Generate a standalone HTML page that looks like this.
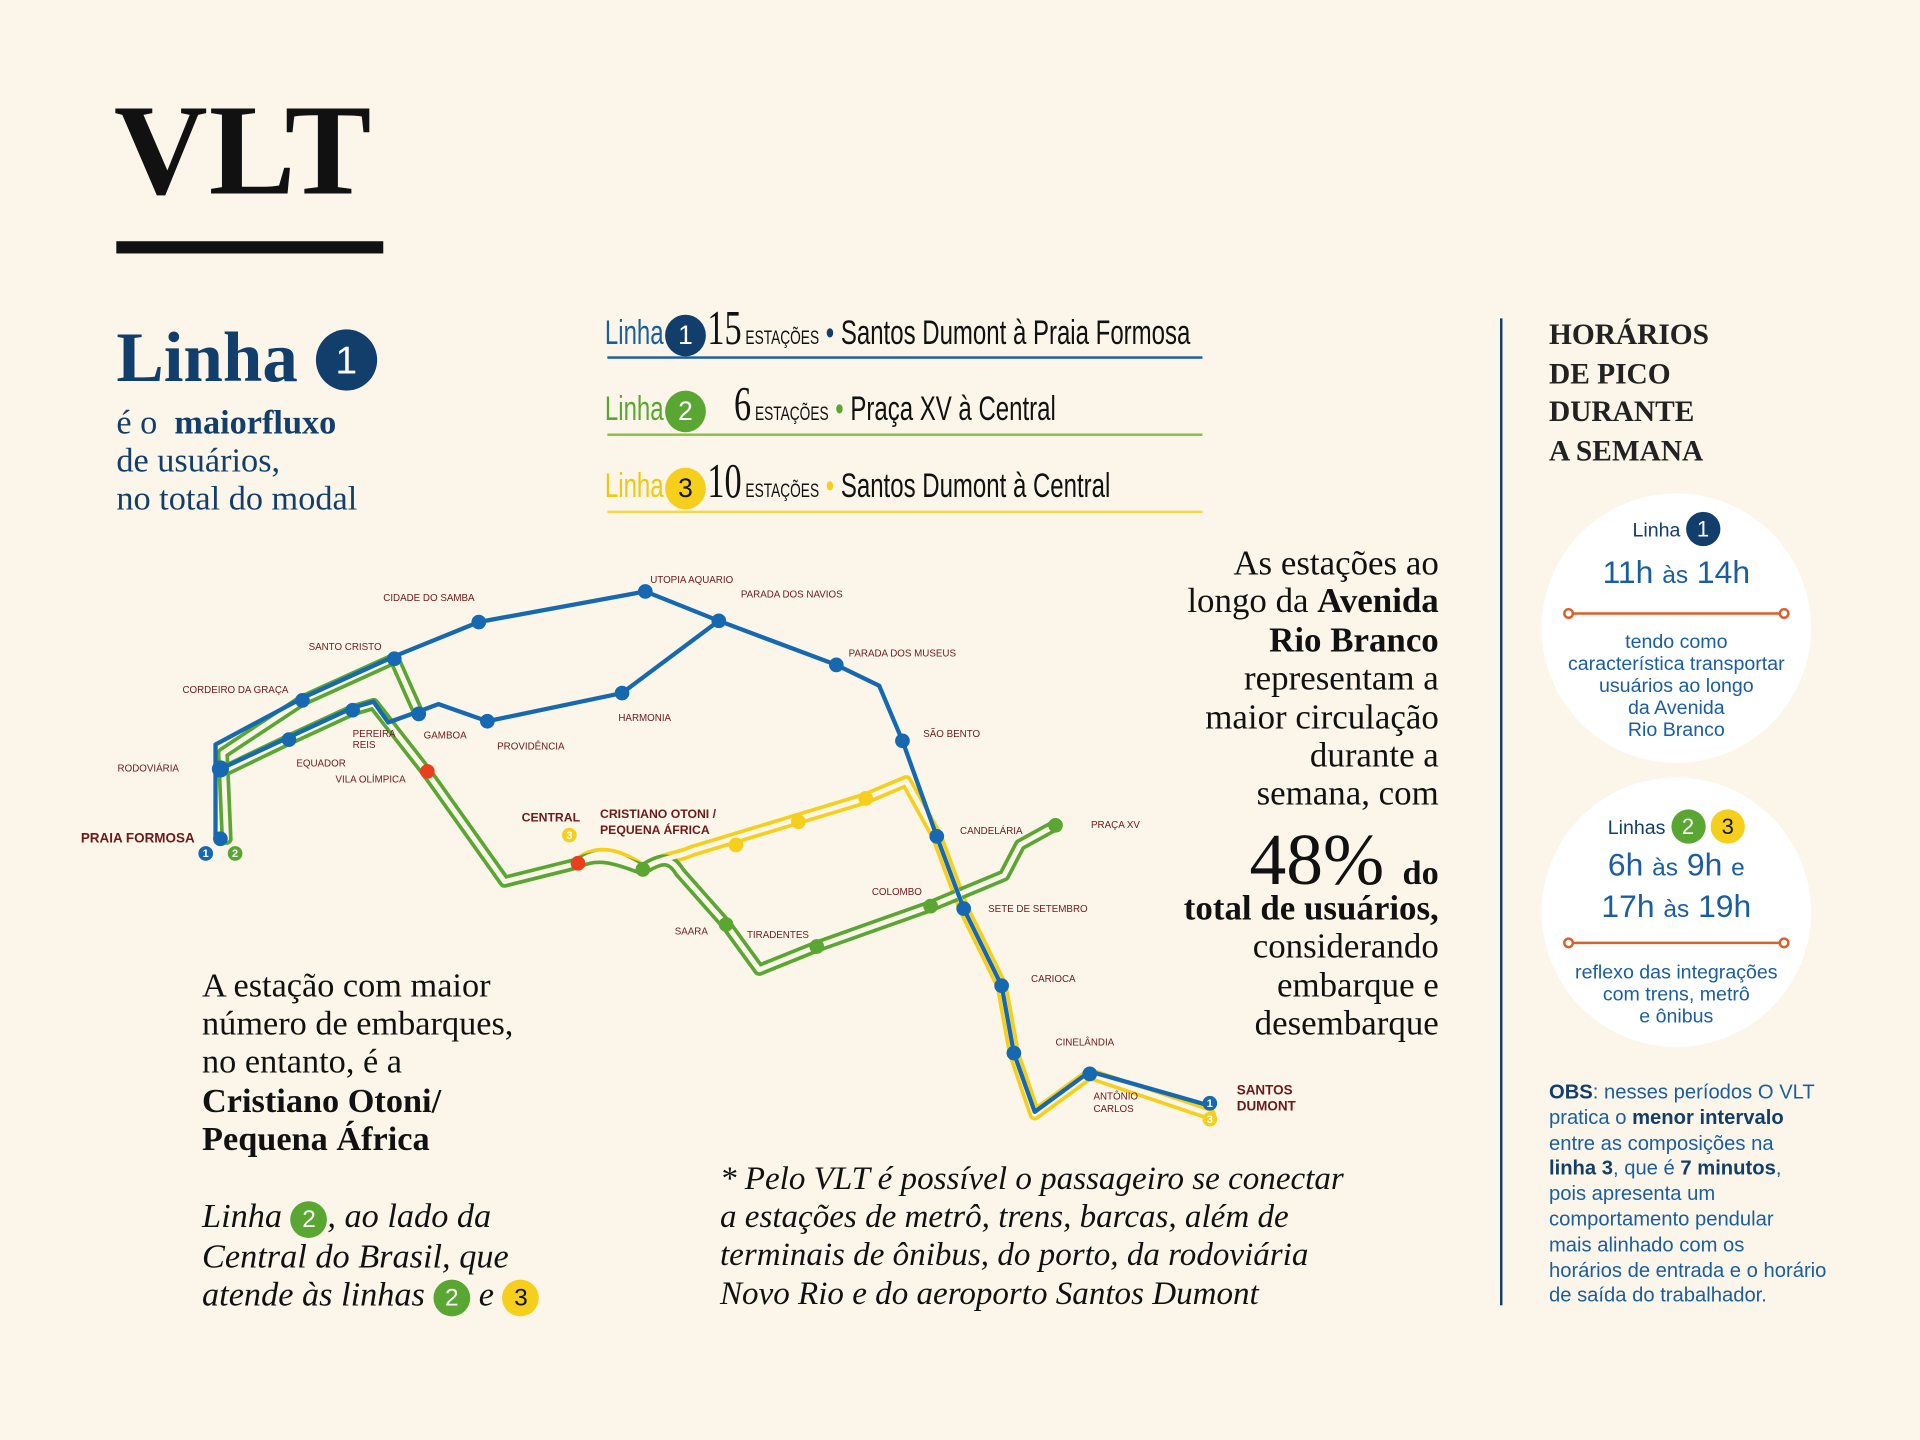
<!DOCTYPE html>
<html><head><meta charset="utf-8">
<style>
html,body{margin:0;padding:0;background:#fcf6ea;}
#wrap{position:absolute;left:0;top:0;width:1568px;height:1176px;transform:scale(1.22449);transform-origin:0 0;background:#fcf6ea;overflow:hidden;}
.a{position:absolute;white-space:nowrap;}
.serif{font-family:"Liberation Serif",serif;}
.sans{font-family:"Liberation Sans",sans-serif;}
.narrow{font-family:"Liberation Sans Narrow","Liberation Sans",sans-serif;}
.circ{display:inline-block;border-radius:50%;color:#fff;text-align:center;font-family:"Liberation Sans",sans-serif;}
.hc{margin:0 9px 0 8px;}
.navy{color:#123e6c;}
</style></head><body>
<div id="wrap">
<div class="a serif" style="left:93px;top:62px;font-size:106px;font-weight:bold;color:#111;letter-spacing:1px;">VLT</div>
<div class="a" style="left:95px;top:197px;width:218px;height:10px;background:#111;"></div>

<div class="a serif navy" style="left:95px;top:258px;font-size:58px;font-weight:bold;">Linha <span class="circ" style="background:#123e6c;width:50px;height:50px;line-height:50px;font-size:32px;font-weight:normal;vertical-align:6px;">1</span></div>
<div class="a serif navy" style="left:95px;top:330px;font-size:28px;line-height:31px;">é o &nbsp;<b>maiorfluxo</b><br>de usuários,<br>no total do modal</div>

<div class="a narrow" style="left:494px;top:244px;font-size:28px;color:#123e6c;transform:scaleX(0.7);transform-origin:0 0;"><span style="color:#1a5ea0">Linha</span><span class="circ hc" style="background:#123e6c;width:34px;height:34px;line-height:34px;font-size:22px;transform:scaleX(1.4);">1</span><span class="serif" style="font-size:40px;color:#111;">15</span><span style="font-size:16px;color:#111;"> ESTAÇÕES</span> <span style="color:#123e6c">•</span> <span style="color:#111">Santos Dumont à Praia Formosa</span></div>
<div class="a" style="left:496px;top:291px;width:486px;height:2px;background:#1a5ea0;"></div>
<div class="a narrow" style="left:494px;top:306px;font-size:28px;transform:scaleX(0.7);transform-origin:0 0;"><span style="color:#5aa632">Linha</span><span class="circ hc" style="background:#5aa632;width:34px;height:34px;line-height:34px;font-size:22px;transform:scaleX(1.4);">2</span>&nbsp;&nbsp;&nbsp;&nbsp;<span class="serif" style="font-size:40px;color:#111;">6</span><span style="font-size:16px;color:#111;"> ESTAÇÕES</span> <span style="color:#5aa632">•</span> <span style="color:#111">Praça XV à Central</span></div>
<div class="a" style="left:496px;top:354px;width:486px;height:2px;background:#8cbf3f;"></div>
<div class="a narrow" style="left:494px;top:369px;font-size:28px;transform:scaleX(0.7);transform-origin:0 0;"><span style="color:#f2c80f">Linha</span><span class="circ hc" style="background:#f5cf1c;color:#111;width:34px;height:34px;line-height:34px;font-size:22px;transform:scaleX(1.4);">3</span><span class="serif" style="font-size:40px;color:#111;">10</span><span style="font-size:16px;color:#111;"> ESTAÇÕES</span> <span style="color:#f5cf1c">•</span> <span style="color:#111">Santos Dumont à Central</span></div>
<div class="a" style="left:496px;top:417px;width:486px;height:2px;background:#f5d84a;"></div>

<svg class="a" style="left:0;top:0" width="1568" height="1176" fill="none" stroke-linecap="round" stroke-linejoin="round">
<g stroke-width="10">
<path stroke="#f5cf1c" d="M472 705 C490 690 510 700 525 710 C540 700 555 700 565 695 L707 652 L740 638 L765 683 L787 742 L818 805 L828 860 L845 910 L890 877 L988 910"/>
<path stroke="#5aa632" d="M185 685 L182 615 L247 572 L322 538 L342 583 M182 630 L236 604 L288 580 L305 575 L348 630 L412 720 L472 705 C490 695 510 705 525 710 C540 700 548 700 555 712 L593 755 L620 792 L667 773 L760 740 L820 715 L833 690 L862 674"/>
</g>
<g stroke="#fcf6ea" stroke-width="4">
<path d="M185 685 L182 615 L247 572 L322 538 L342 583 M182 630 L236 604 L288 580 L305 575 L348 630 L412 720 L472 705 C490 695 510 705 525 710 C540 700 548 700 555 712 L593 755 L620 792 L667 773 L760 740 L820 715 L833 690 L862 674"/>
<path d="M472 705 C490 690 510 700 525 710 C540 700 555 700 565 695 L707 652 L740 638 L765 683 L787 742 L818 805 L828 860 L845 910 L890 877 L988 910"/>
</g>
<g stroke="#1669b0" stroke-width="3.5">
<path d="M176 685 L176 608 L247 570 L322 536 L391 508 L527 483 L587 507 L683 543 L718 560 L737 605 L765 683 L787 742 L818 805 L828 860 L845 908 L890 875 L988 903"/>
<path d="M180 628 L236 602 L288 578 L305 573 L317 590 L342 581 L358 575 L398 589 L508 566 L587 507"/>
</g>
<g fill="#1669b0">
<circle cx="391" cy="508" r="6"/><circle cx="527" cy="483" r="6"/><circle cx="587" cy="507" r="6"/><circle cx="683" cy="543" r="6"/><circle cx="737" cy="605" r="6"/><circle cx="398" cy="589" r="6"/><circle cx="508" cy="566" r="6"/><circle cx="322" cy="538" r="6"/><circle cx="247" cy="572" r="6"/><circle cx="236" cy="604" r="6"/><circle cx="288" cy="580" r="6"/><circle cx="342" cy="583" r="6"/><circle cx="180" cy="628" r="7"/><circle cx="180" cy="685" r="6"/><circle cx="168" cy="697" r="6"/>
<circle cx="765" cy="683" r="6"/><circle cx="787" cy="742" r="6"/><circle cx="818" cy="805" r="6"/><circle cx="828" cy="860" r="6"/><circle cx="890" cy="877" r="6"/><circle cx="988" cy="901" r="6"/>
</g>
<g fill="#5aa632"><circle cx="593" cy="755" r="6"/><circle cx="667" cy="773" r="6"/><circle cx="760" cy="740" r="6"/><circle cx="862" cy="674" r="6"/><circle cx="525" cy="710" r="6"/><circle cx="192" cy="697" r="6"/></g>
<g fill="#f5cf1c"><circle cx="601" cy="690" r="6"/><circle cx="652" cy="671" r="6"/><circle cx="707" cy="652" r="6"/><circle cx="465" cy="682" r="6"/><circle cx="988" cy="914" r="6"/></g>
<g fill="#e8401c"><circle cx="349" cy="630" r="6"/><circle cx="472" cy="705" r="6"/></g>
<g fill="#fff" font-family="Liberation Sans,sans-serif" font-size="9" font-weight="bold" text-anchor="middle" stroke="none"><text x="168" y="700">1</text><text x="192" y="700">2</text><text x="465" y="685">3</text><text x="988" y="904">1</text><text x="988" y="917">3</text></g>
<g fill="#6b1a1a" stroke="none" font-family="Liberation Sans,sans-serif" font-size="8">
<text x="313" y="491">CIDADE DO SAMBA</text><text x="531" y="476">UTOPIA AQUARIO</text><text x="605" y="488">PARADA DOS NAVIOS</text><text x="252" y="531">SANTO CRISTO</text><text x="693" y="536">PARADA DOS MUSEUS</text><text x="149" y="566">CORDEIRO DA GRAÇA</text><text x="505" y="589">HARMONIA</text><text x="288" y="602">PEREIRA</text><text x="288" y="611">REIS</text><text x="346" y="603">GAMBOA</text><text x="406" y="612">PROVIDÊNCIA</text><text x="754" y="602">SÃO BENTO</text><text x="96" y="630">RODOVIÁRIA</text><text x="242" y="626">EQUADOR</text><text x="274" y="639">VILA OLÍMPICA</text><text x="784" y="681">CANDELÁRIA</text><text x="891" y="676">PRAÇA XV</text><text x="712" y="731">COLOMBO</text><text x="807" y="745">SETE DE SETEMBRO</text><text x="551" y="763">SAARA</text><text x="610" y="766">TIRADENTES</text><text x="842" y="802">CARIOCA</text><text x="862" y="854">CINELÂNDIA</text><text x="893" y="898">ANTÔNIO</text><text x="893" y="908">CARLOS</text>
<g font-weight="bold" font-size="10"><text x="426" y="671">CENTRAL</text><text x="490" y="668">CRISTIANO OTONI /</text><text x="490" y="681">PEQUENA ÁFRICA</text><text x="66" y="688" font-size="11">PRAIA FORMOSA</text><text x="1010" y="894" font-size="11">SANTOS</text><text x="1010" y="907" font-size="11">DUMONT</text></g>
</g>
</svg>

<div class="a serif" style="right:393px;top:445px;font-size:28.5px;line-height:31.4px;text-align:right;color:#111;">As estações ao<br>longo da <b>Avenida</b><br><b>Rio Branco</b><br>representam a<br>maior circulação<br>durante a<br>semana, com</div>
<div class="a serif" style="right:393px;top:668px;font-size:60px;text-align:right;color:#111;">48% <b style="font-size:28px;">do</b></div>
<div class="a serif" style="right:393px;top:727px;font-size:28.5px;line-height:31.4px;text-align:right;color:#111;"><b>total de usuários,</b><br>considerando<br>embarque e<br>desembarque</div>

<div class="a serif" style="left:165px;top:790px;font-size:28px;line-height:31.2px;color:#111;">A estação com maior<br>número de embarques,<br>no entanto, é a<br><b>Cristiano Otoni/</b><br><b>Pequena África</b></div>
<div class="a serif" style="left:165px;top:978px;font-size:28px;line-height:31.2px;font-style:italic;color:#111;">Linha <span class="circ" style="background:#5aa632;width:30px;height:30px;line-height:30px;font-size:20px;font-style:normal;">2</span>, ao lado da<br>Central do Brasil, que<br>atende às linhas <span class="circ" style="background:#5aa632;width:30px;height:30px;line-height:30px;font-size:20px;font-style:normal;">2</span> e <span class="circ" style="background:#f5cf1c;color:#111;width:30px;height:30px;line-height:30px;font-size:20px;font-style:normal;">3</span></div>
<div class="a serif" style="left:588px;top:947px;font-size:27px;line-height:31.2px;font-style:italic;color:#111;">* Pelo VLT é possível o passageiro se conectar<br>a estações de metrô, trens, barcas, além de<br>terminais de ônibus, do porto, da rodoviária<br>Novo Rio e do aeroporto Santos Dumont</div>

<div class="a" style="left:1225px;top:260px;width:2px;height:806px;background:#123e6c;"></div>
<div class="a serif" style="left:1265px;top:259px;font-size:24px;line-height:31.5px;font-weight:bold;color:#222;">HORÁRIOS<br>DE PICO<br>DURANTE<br>A SEMANA</div>

<div class="a" style="left:1259px;top:403px;width:220px;height:220px;border-radius:50%;background:#fff;"></div>
<div class="a sans" style="left:1259px;top:418px;width:220px;text-align:center;font-size:16px;color:#123e6c;">Linha <span class="circ" style="background:#123e6c;width:28px;height:28px;line-height:28px;font-size:18px;">1</span></div>
<div class="a sans" style="left:1259px;top:452px;width:220px;text-align:center;font-size:26px;color:#1a5ea0;">11h <span style="font-size:20px">às</span> 14h</div>
<svg class="a" style="left:1276px;top:495px" width="186" height="12"><line x1="5" y1="6" x2="181" y2="6" stroke="#d8602a" stroke-width="2"/><circle cx="5" cy="6" r="3.5" fill="#fff" stroke="#d8602a" stroke-width="2"/><circle cx="181" cy="6" r="3.5" fill="#fff" stroke="#d8602a" stroke-width="2"/></svg>
<div class="a sans" style="left:1259px;top:516px;width:220px;text-align:center;font-size:16px;line-height:18px;color:#1a5ea0;">tendo como<br>característica transportar<br>usuários ao longo<br>da Avenida<br>Rio Branco</div>

<div class="a" style="left:1259px;top:635px;width:220px;height:220px;border-radius:50%;background:#fff;"></div>
<div class="a sans" style="left:1259px;top:661px;width:220px;text-align:center;font-size:16px;color:#123e6c;">Linhas <span class="circ" style="background:#5aa632;width:28px;height:28px;line-height:28px;font-size:18px;">2</span> <span class="circ" style="background:#f5cf1c;color:#111;width:28px;height:28px;line-height:28px;font-size:18px;">3</span></div>
<div class="a sans" style="left:1259px;top:691px;width:220px;text-align:center;font-size:26px;line-height:31px;color:#1a5ea0;">6h <span style="font-size:20px">às</span> 9h <span style="font-size:20px">e</span><br>17h <span style="font-size:20px">às</span> 19h</div>
<svg class="a" style="left:1276px;top:764px" width="186" height="12"><line x1="5" y1="6" x2="181" y2="6" stroke="#d8602a" stroke-width="2"/><circle cx="5" cy="6" r="3.5" fill="#fff" stroke="#d8602a" stroke-width="2"/><circle cx="181" cy="6" r="3.5" fill="#fff" stroke="#d8602a" stroke-width="2"/></svg>
<div class="a sans" style="left:1259px;top:786px;width:220px;text-align:center;font-size:16px;line-height:18px;color:#1a5ea0;">reflexo das integrações<br>com trens, metrô<br>e ônibus</div>

<div class="a sans" style="left:1265px;top:882px;font-size:16.5px;line-height:20.8px;color:#1a5ea0;"><b style="color:#123e6c">OBS</b>: nesses períodos O VLT<br>pratica o <b style="color:#123e6c">menor intervalo</b><br>entre as composições na<br><b style="color:#123e6c">linha 3</b>, que é <b style="color:#123e6c">7 minutos</b>,<br>pois apresenta um<br>comportamento pendular<br>mais alinhado com os<br>horários de entrada e o horário<br>de saída do trabalhador.</div>
</div>
</body></html>
